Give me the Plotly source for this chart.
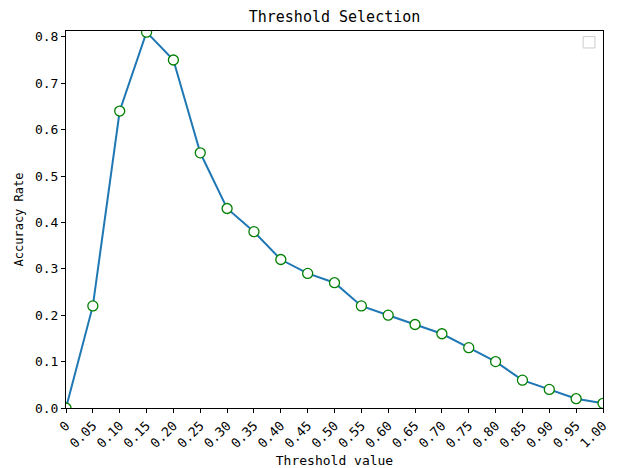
import plotly.graph_objects as go

thresholds = [0, 0.05, 0.10, 0.15, 0.20, 0.25, 0.30, 0.35, 0.40, 0.45, 0.50,
              0.55, 0.60, 0.65, 0.70, 0.75, 0.80, 0.85, 0.90, 0.95, 1.00]
accuracy = [0.0, 0.22, 0.64, 0.81, 0.75, 0.55, 0.43, 0.38, 0.32, 0.29, 0.27,
            0.22, 0.20, 0.18, 0.16, 0.13, 0.10, 0.06, 0.04, 0.02, 0.01]
x_tick_labels = ["0", "0.05", "0.10", "0.15", "0.20", "0.25", "0.30", "0.35", "0.40",
                 "0.45", "0.50", "0.55", "0.60", "0.65", "0.70", "0.75", "0.80",
                 "0.85", "0.90", "0.95", "1.00"]
y_ticks = [0, 0.1, 0.2, 0.3, 0.4, 0.5, 0.6, 0.7, 0.8]

FONT = "DejaVu Sans Mono, Noto Sans CJK SC, monospace"

fig = go.Figure()
fig.add_trace(go.Scatter(
    x=thresholds, y=accuracy, mode="lines+markers",
    line=dict(color="#1f77b4", width=2),
    marker=dict(size=10, color="white", line=dict(color="green", width=1.3)),
    cliponaxis=True, showlegend=False,
))

axis_common = dict(showline=True, linecolor="black", linewidth=1, mirror=True,
                   ticks="outside", ticklen=4, tickcolor="black", showgrid=False,
                   zeroline=False, automargin=False,
                   tickfont=dict(family=FONT, size=13, color="black"))

fig.update_layout(
    width=619, height=468,
    margin=dict(l=66, r=16, t=31, b=60),
    paper_bgcolor="white", plot_bgcolor="white",
    title=dict(text="Threshold Selection", x=0.5, xanchor="center", xref="paper",
               y=1, yref="container", yanchor="top", pad=dict(t=11),
               font=dict(family=FONT, size=15, color="black")),
    xaxis=dict(range=[0, 1], tickvals=thresholds, ticktext=x_tick_labels, tickangle=-45,
               title=dict(text="Threshold value", standoff=5,
                          font=dict(family=FONT, size=13, color="black")),
               **axis_common),
    yaxis=dict(range=[0, 0.8125], tickvals=y_ticks, tickformat=".1f",
               title=dict(text="Accuracy Rate", standoff=8,
                          font=dict(family=FONT, size=12, color="black")),
               **axis_common),
    shapes=[dict(type="rect", xref="paper", yref="paper",
                 x0=0.963, x1=0.985, y0=0.955, y1=0.985,
                 line=dict(color="#cccccc", width=1), fillcolor="white")],
)

fig.write_html("out.html")
